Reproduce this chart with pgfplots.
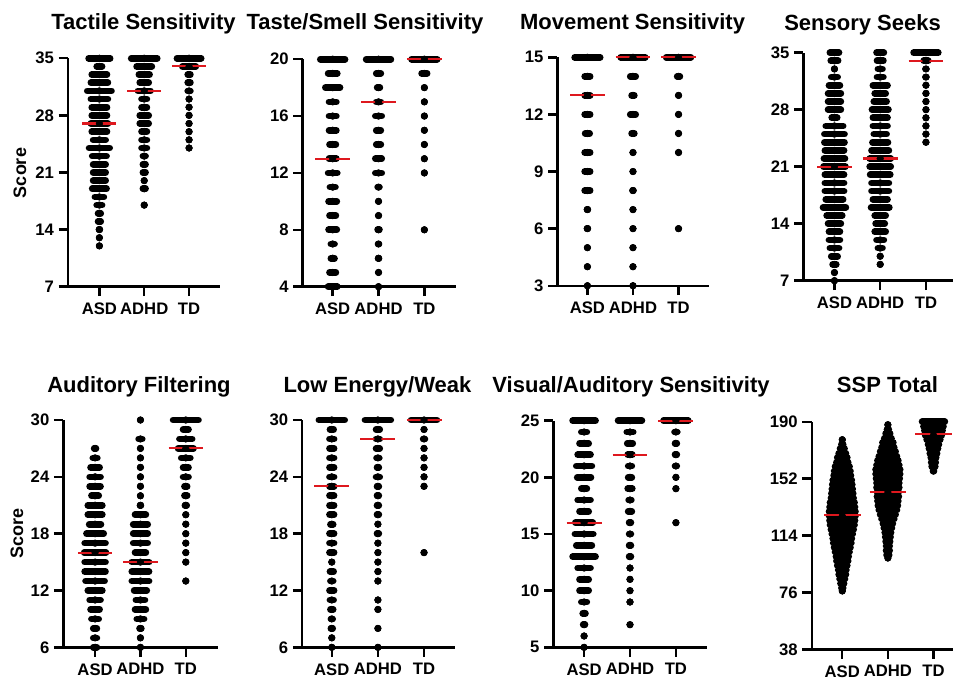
\documentclass[border=0pt]{standalone}
\usepackage{fontspec}
\setmainfont{Liberation Sans}
\usepackage{pgfplots}
\pgfplotsset{compat=1.18}

\definecolor{medred}{RGB}{222,24,30}
\newcommand{\titlefont}{\bfseries\fontsize{16.5}{18}\selectfont}

\pgfplotsset{
  swarm/.style={
    scale only axis, clip=false,
    axis x line=bottom, axis y line=left,
    axis line style={line width=1.8pt,-},
    xtick={1,2,3}, xticklabels={ASD,ADHD,TD},
    tick align=outside, major tick length=7pt,
    tick style={line width=1.8pt, black},
    ticklabel style={font=\bfseries\fontsize{12.5}{14}\selectfont},
    xticklabel style={yshift=-1.5pt},
    /pgf/number format/assume math mode=true,
    enlargelimits=false,
    anchor=south west,
  },
  dots/.style={
    only marks, mark=*, mark size=2.5pt, black,
    error bars/.cd, x dir=both, x explicit, error mark=none,
    error bar style={line width=5pt, line cap=round, black},
  },
  med/.style={medred, line width=1.6pt, unbounded coords=jump},
}

\begin{document}
\begin{tikzpicture}
\useasboundingbox (0,0) rectangle (714.75pt,-510.75pt);

% ---------- Tactile Sensitivity
\begin{axis}[swarm, at={(51pt,-215pt)}, width=114pt, height=171.3pt,
  xmin=0.30, xmax=3.69, ymin=7, ymax=35, ytick={7,14,21,28,35}]
\addplot[dots] table[x=x, y=y, x error=h] {
x y h
1 35 .24
1 34 .06
1 33 .17
1 32 .19
1 31 .27
1 30 .19
1 29 .17
1 28 .17
1 27 .19
1 26 .17
1 25 .14
1 24 .23
1 23 .16
1 22 .14
1 21 .14
1 20 .14
1 19 .16
1 18 .10
1 17 .06
1 16 .03
1 15 .03
1 14 .01
1 13 0
1 12 0
2 35 .29
2 34 .17
2 33 .12
2 32 .10
2 31 .14
2 30 .06
2 29 .06
2 28 .10
2 27 .10
2 26 .06
2 25 .06
2 24 .06
2 23 .03
2 22 .03
2 21 .03
2 20 0
2 19 .03
2 17 0
3 35 .27
3 34 .15
3 33 .03
3 32 .03
3 31 .03
3 30 0
3 29 0
3 28 0
3 27 0
3 26 0
3 25 0
3 24 0
};
\addplot[med] coordinates {(0.62,27) (1.38,27) (1.5,nan) (1.62,31) (2.38,31) (2.5,nan) (2.62,34) (3.38,34)};
\end{axis}

% ---------- Taste/Smell Sensitivity
\begin{axis}[swarm, at={(227pt,-215pt)}, width=115pt, height=170.6pt,
  xmin=0.345, xmax=3.69, ymin=4, ymax=20, ytick={4,8,12,16,20}]
\addplot[dots] table[x=x, y=y, x error=h] {
x y h
1 20 .27
1 19 .10
1 18 .16
1 17 .08
1 16 .08
1 15 .08
1 14 .07
1 13 .08
1 12 .10
1 11 .06
1 10 .09
1 9 .07
1 8 .09
1 7 .04
1 6 .04
1 5 .07
1 4 .10
2 20 .27
2 19 .05
2 18 .03
2 17 .05
2 16 .07
2 15 .05
2 14 .05
2 13 .07
2 12 .07
2 11 .02
2 10 0
2 9 0
2 8 .02
2 7 .01
2 6 .01
2 5 0
2 4 0
3 20 .28
3 19 .06
3 18 0
3 17 0
3 16 0
3 15 0
3 14 0
3 13 0
3 12 0
3 8 0
};
\addplot[med] coordinates {(0.62,13) (1.38,13) (1.5,nan) (1.62,17) (2.38,17) (2.5,nan) (2.62,20) (3.38,20)};
\end{axis}

% ---------- Movement Sensitivity
\begin{axis}[swarm, at={(418pt,-214.3pt)}, width=113.8pt, height=171.3pt,
  xmin=0.34, xmax=3.67, ymin=3, ymax=15, ytick={3,6,9,12,15}]
\addplot[dots] table[x=x, y=y, x error=h] {
x y h
1 15 .28
1 14 .06
1 13 .06
1 12 .06
1 11 .05
1 10 .06
1 9 .06
1 8 .06
1 7 .01
1 6 .01
1 5 0
1 4 0
1 3 0
2 15 .27
2 14 .06
2 13 .03
2 12 .06
2 11 .03
2 10 0
2 9 0
2 8 .01
2 7 0
2 6 0
2 5 0
2 4 0
2 3 0
3 15 .27
3 14 .03
3 13 0
3 12 0
3 11 0
3 10 0
3 6 0
};
\addplot[med] coordinates {(0.62,13) (1.38,13) (1.5,nan) (1.62,15) (2.38,15) (2.5,nan) (2.62,15) (3.38,15)};
\end{axis}

% ---------- Sensory Seeks
\begin{axis}[swarm, at={(602.5pt,-210.5pt)}, width=112.2pt, height=171pt,
  xmin=0.32, xmax=3.59, ymin=7, ymax=35, ytick={7,14,21,28,35}]
\addplot[dots] table[x=x, y=y, x error=h] {
x y h
1 35 .10
1 34 .08
1 33 0
1 32 .07
1 31 .12
1 30 .14
1 29 .14
1 28 .14
1 27 .06
1 26 .19
1 25 .22
1 24 .22
1 23 .21
1 22 .23
1 21 .24
1 20 .21
1 19 .21
1 18 .21
1 17 .19
1 16 .25
1 15 .17
1 14 .14
1 13 .12
1 12 .12
1 11 .10
1 10 .07
1 9 .04
1 8 0
1 7 0
2 35 .08
2 34 .07
2 33 .05
2 32 .07
2 31 .16
2 30 .12
2 29 .14
2 28 .18
2 27 .16
2 26 .16
2 25 .14
2 24 .17
2 23 .19
2 22 .23
2 21 .23
2 20 .22
2 19 .19
2 18 .19
2 17 .16
2 16 .20
2 15 .12
2 14 .10
2 13 .12
2 12 .08
2 11 .05
2 10 0
2 9 0
3 35 .27
3 34 .05
3 33 .01
3 32 .01
3 31 0
3 30 0
3 29 0
3 28 0
3 27 0
3 26 0
3 25 0
3 24 0
};
\addplot[med] coordinates {(0.62,21) (1.38,21) (1.5,nan) (1.62,22) (2.38,22) (2.5,nan) (2.62,34) (3.38,34)};
\end{axis}

% ---------- Auditory Filtering
\begin{axis}[swarm, at={(47.5pt,-485.5pt)}, width=116pt, height=170.5pt,
  xmin=0.30, xmax=3.71, ymin=6, ymax=30, ytick={6,12,18,24,30}]
\addplot[dots] table[x=x, y=y, x error=h] {
x y h
1 27 .02
1 26 .05
1 25 .10
1 24 .12
1 23 .12
1 22 .08
1 21 .16
1 20 .16
1 19 .13
1 18 .19
1 17 .23
1 16 .24
1 15 .23
1 14 .23
1 13 .21
1 12 .16
1 11 .12
1 10 .10
1 9 .08
1 8 .04
1 7 .04
1 6 .04
2 30 0
2 28 .04
2 27 0
2 26 0
2 25 0
2 24 0
2 23 0
2 22 0
2 21 .01
2 20 .12
2 19 .16
2 18 .16
2 17 .16
2 16 .12
2 15 .19
2 14 .19
2 13 .19
2 12 .14
2 11 .10
2 10 .12
2 9 .08
2 8 .02
2 7 0
2 6 0
3 30 .28
3 29 .06
3 28 .14
3 27 .17
3 26 .10
3 25 .06
3 24 .06
3 23 .03
3 22 .03
3 21 .02
3 20 0
3 19 0
3 18 0
3 17 0
3 16 0
3 15 0
3 13 0
};
\addplot[med] coordinates {(0.62,16) (1.38,16) (1.5,nan) (1.62,15) (2.38,15) (2.5,nan) (2.62,27) (3.38,27)};
\end{axis}

% ---------- Low Energy/Weak
\begin{axis}[swarm, at={(226.7pt,-485.5pt)}, width=114.5pt, height=170.5pt,
  xmin=0.36, xmax=3.67, ymin=6, ymax=30, ytick={6,12,18,24,30}]
\addplot[dots] table[x=x, y=y, x error=h] {
x y h
1 30 .28
1 29 .04
1 28 .05
1 27 .05
1 26 .05
1 25 .05
1 24 .05
1 23 .05
1 22 .05
1 21 .05
1 20 .05
1 19 .03
1 18 .05
1 17 .05
1 16 .05
1 15 0
1 14 .04
1 13 .03
1 12 .05
1 11 .04
1 10 .03
1 9 .02
1 8 .02
1 7 0
1 6 0
2 30 .28
2 29 .04
2 28 .04
2 27 .04
2 26 .03
2 25 .02
2 24 .04
2 23 .02
2 22 .02
2 21 .02
2 20 .02
2 19 0
2 18 .02
2 17 0
2 16 0
2 15 0
2 14 0
2 13 0
2 11 0
2 10 0
2 8 0
2 6 0
3 30 .28
3 29 0
3 28 .02
3 27 0
3 26 0
3 25 0
3 24 0
3 23 0
3 16 0
};
\addplot[med] coordinates {(0.62,23) (1.38,23) (1.5,nan) (1.62,28) (2.38,28) (2.5,nan) (2.62,30) (3.38,30)};
\end{axis}

% ---------- Visual/Auditory Sensitivity
\begin{axis}[swarm, at={(415pt,-485.5pt)}, width=115pt, height=170pt,
  xmin=0.33, xmax=3.67, ymin=5, ymax=25, ytick={5,10,15,20,25}]
\addplot[dots] table[x=x, y=y, x error=h] {
x y h
1 25 .25
1 24 .06
1 23 .10
1 22 .14
1 21 .17
1 20 .15
1 19 .06
1 18 .14
1 17 .10
1 16 .19
1 15 .20
1 14 .17
1 13 .25
1 12 .14
1 11 .10
1 10 .10
1 9 .06
1 8 .03
1 7 .02
1 6 0
1 5 0
2 25 .26
2 24 .07
2 23 .06
2 22 .05
2 21 .04
2 20 .04
2 19 .05
2 18 .03
2 17 .04
2 16 .02
2 15 .02
2 14 .02
2 13 .02
2 12 0
2 11 0
2 10 0
2 9 0
2 7 0
3 25 .27
3 24 .03
3 23 .02
3 22 .02
3 21 .02
3 20 0
3 19 0
3 16 0
};
\addplot[med] coordinates {(0.62,16) (1.38,16) (1.5,nan) (1.62,22) (2.38,22) (2.5,nan) (2.62,25) (3.38,25)};
\end{axis}

% ---------- SSP Total
\begin{axis}[swarm, at={(608.8pt,-487pt)}, width=106pt, height=170.7pt,
  xmin=0.33, xmax=3.43, ymin=38, ymax=190, ytick={38,76,114,152,190}]
\addplot[dots] table[x=x, y=y, x error=h] {
x y h
1 178 0
1 175 .02
1 172 .05
1 169 .08
1 166 .11
1 163 .13
1 160 .16
1 157 .18
1 154 .19
1 151 .21
1 148 .22
1 145 .23
1 142 .24
1 139 .25
1 136 .27
1 133 .28
1 130 .29
1 127 .29
1 124 .28
1 121 .27
1 118 .25
1 115 .23
1 112 .21
1 109 .20
1 106 .18
1 103 .16
1 100 .14
1 97 .13
1 94 .11
1 91 .09
1 88 .08
1 85 .06
1 82 .04
1 79 .02
1 77 0
2 188 0
2 185 .02
2 182 .05
2 179 .08
2 176 .12
2 173 .14
2 170 .17
2 167 .20
2 164 .23
2 161 .25
2 158 .27
2 155 .27
2 152 .26
2 149 .25
2 146 .25
2 143 .24
2 140 .24
2 137 .23
2 134 .22
2 131 .20
2 128 .17
2 125 .14
2 122 .11
2 119 .09
2 116 .07
2 113 .06
2 110 .05
2 107 .04
2 104 .04
2 101 .03
2 99 0
3 190 .25
3 187 .22
3 184 .20
3 181 .18
3 178 .15
3 175 .12
3 172 .10
3 169 .08
3 166 .06
3 163 .05
3 160 .04
3 157 .01
};
\addplot[med] coordinates {(0.6,128) (1.4,128) (1.5,nan) (1.6,143) (2.4,143) (2.5,nan) (2.6,182) (3.4,182)};
\end{axis}

% ---------- titles and y labels
\node[anchor=base, font=\titlefont] at (107.6pt,-22.5pt) {Tactile Sensitivity};
\node[anchor=base, font=\titlefont] at (273.75pt,-22.5pt) {Taste/Smell Sensitivity};
\node[anchor=base, font=\titlefont] at (474.4pt,-22.5pt) {Movement Sensitivity};
\node[anchor=base, font=\titlefont] at (646.9pt,-23.25pt) {Sensory Seeks};
\node[anchor=base, font=\titlefont] at (104.25pt,-294pt) {Auditory Filtering};
\node[anchor=base, font=\titlefont] at (283.1pt,-294pt) {Low Energy/Weak};
\node[anchor=base, font=\titlefont] at (473.25pt,-294pt) {Visual/Auditory Sensitivity};
\node[anchor=base, font=\titlefont] at (665.6pt,-294pt) {SSP Total};
\node[rotate=90, font=\bfseries\fontsize{13.5}{15}\selectfont] at (15pt,-129.75pt) {Score};
\node[rotate=90, font=\bfseries\fontsize{13.5}{15}\selectfont] at (12.75pt,-399.75pt) {Score};
\end{tikzpicture}
\end{document}
